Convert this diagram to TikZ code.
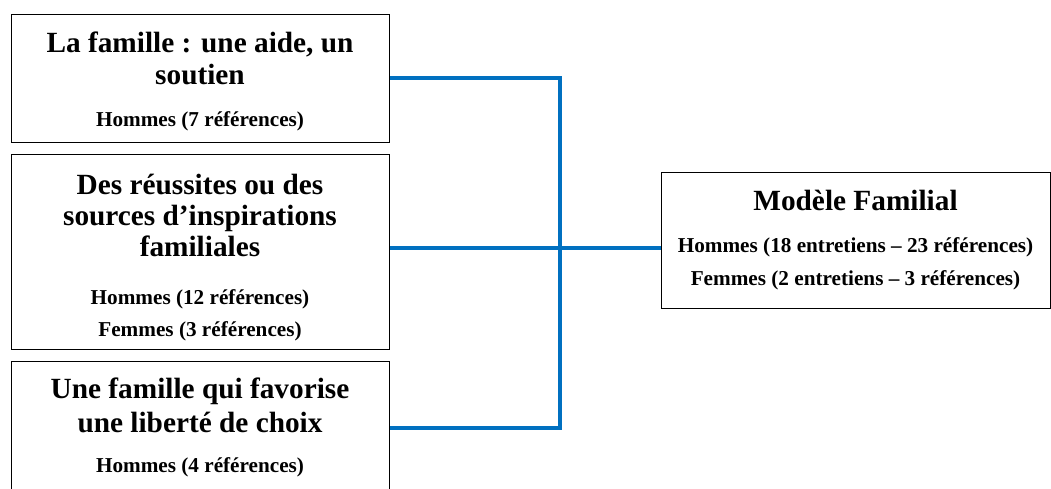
\documentclass[tikz,border=0pt]{standalone}
\usepackage{fontspec}
\setmainfont{Liberation Serif}
\definecolor{linkblue}{HTML}{0070C0}
\begin{document}
\begin{tikzpicture}[x=1pt,y=-1pt,
  box/.style={draw, line width=1.3pt, inner sep=0pt, anchor=north west},
  ttl/.style={font=\fontsize{29.3}{33}\selectfont\bfseries, anchor=base, inner sep=0pt},
  sub/.style={font=\fontsize{21.2}{32}\selectfont\bfseries, anchor=base, inner sep=0pt},
  link/.style={draw=linkblue, line width=4.5pt}]
\clip (0,0) rectangle (1051,489);
\fill[white] (0,0) rectangle (1051,489);
% boxes
\node[box, minimum width=378pt, minimum height=128pt] (b1) at (11,14) {};
\node[box, minimum width=378pt, minimum height=195pt] (b2) at (11,154) {};
\node[box, minimum width=378pt, minimum height=140pt] (b3) at (11,361) {};
\node[box, minimum width=389pt, minimum height=136pt] (m) at (661,172) {};
% texts box 1
\node[ttl] (t1a) at (200,53) {La famille : une aide, un};
\node[ttl] (t1b) at (200,85) {soutien};
\node[sub] (s1a) at (200,127) {Hommes (7 références)};
% texts box 2
\node[ttl] (t2a) at (200,194) {Des réussites ou des};
\node[ttl] (t2b) at (200,225) {sources d’inspirations};
\node[ttl] (t2c) at (200,256) {familiales};
\node[sub] (s2a) at (200,304) {Hommes (12 références)};
\node[sub] (s2b) at (200,336) {Femmes (3 références)};
% texts box 3
\node[ttl] (t3a) at (200,398) {Une famille qui favorise};
\node[ttl] (t3b) at (200,432) {une liberté de choix};
\node[sub] (s3a) at (200,472) {Hommes (4 références)};
% texts main box
\node[ttl] (tma) at (855.5,210) {Modèle Familial};
\node[sub] (sma) at (855.5,252) {Hommes (18 entretiens – 23 références)};
\node[sub] (smb) at (855.5,285) {Femmes (2 entretiens – 3 références)};
% connectors
\coordinate (j1) at (560,78);
\coordinate (j2) at (560,248);
\coordinate (j3) at (560,428);
\draw[link] (b1.east |- j1) -- (j1) -- (j3) -- (b3.east |- j3);
\draw[link] (b2.east |- j2) -- (m.west |- j2);
\end{tikzpicture}
\end{document}
